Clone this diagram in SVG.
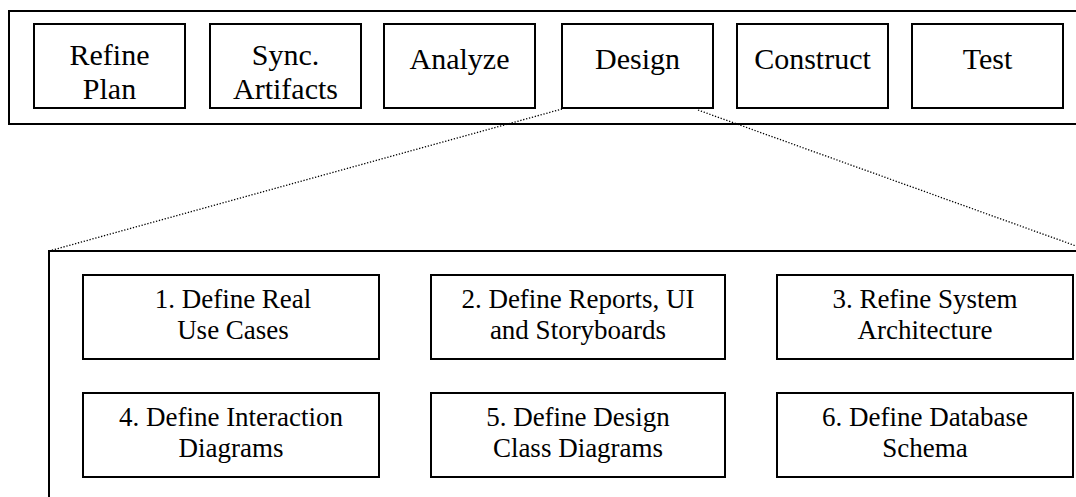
<svg xmlns="http://www.w3.org/2000/svg" width="1076" height="497" viewBox="0 0 1076 497">
  <rect width="1076" height="497" fill="#fff"/>

  <g id="frames" fill="none" stroke="#000" stroke-width="2">
    <rect id="phase-frame" x="9" y="11" width="1100" height="113"/>
    <rect id="design-frame" x="49" y="251" width="1100" height="300"/>
  </g>

  <g id="connectors" fill="none" stroke="#000" stroke-width="1.3" stroke-dasharray="1.3 1.7">
    <line x1="562" y1="109" x2="49" y2="251"/>
    <line x1="698" y1="110" x2="1090" y2="251"/>
  </g>

  <g id="nodes" stroke-width="2">
    <g id="refine-plan">
      <rect x="34" y="24" width="151" height="84" fill="#fff" stroke="#000"/>
      <text font-family="Liberation Serif" font-size="30" text-anchor="middle" x="109.5" y="65">Refine</text>
      <text font-family="Liberation Serif" font-size="30" text-anchor="middle" x="109.5" y="99">Plan</text>
    </g>
    <g id="sync-artifacts">
      <rect x="210" y="24" width="151" height="84" fill="#fff" stroke="#000"/>
      <text font-family="Liberation Serif" font-size="30" text-anchor="middle" x="285.5" y="65">Sync.</text>
      <text font-family="Liberation Serif" font-size="30" text-anchor="middle" x="285.5" y="99">Artifacts</text>
    </g>
    <g id="analyze">
      <rect x="384" y="24" width="151" height="84" fill="#fff" stroke="#000"/>
      <text font-family="Liberation Serif" font-size="30" text-anchor="middle" x="459.5" y="69">Analyze</text>
    </g>
    <g id="design">
      <rect x="562" y="24" width="151" height="84" fill="#fff" stroke="#000"/>
      <text font-family="Liberation Serif" font-size="30" text-anchor="middle" x="637.5" y="69">Design</text>
    </g>
    <g id="construct">
      <rect x="737" y="24" width="151" height="84" fill="#fff" stroke="#000"/>
      <text font-family="Liberation Serif" font-size="30" text-anchor="middle" x="812.5" y="69">Construct</text>
    </g>
    <g id="test">
      <rect x="912" y="24" width="151" height="84" fill="#fff" stroke="#000"/>
      <text font-family="Liberation Serif" font-size="30" text-anchor="middle" x="987.5" y="69">Test</text>
    </g>

    <g id="step1">
      <rect x="83" y="275" width="296" height="84" fill="#fff" stroke="#000"/>
      <text font-family="Liberation Serif" font-size="27" text-anchor="middle" x="233" y="308">1. Define Real</text>
      <text font-family="Liberation Serif" font-size="27" text-anchor="middle" x="233" y="338.5">Use Cases</text>
    </g>
    <g id="step2">
      <rect x="431" y="275" width="294" height="84" fill="#fff" stroke="#000"/>
      <text font-family="Liberation Serif" font-size="27" text-anchor="middle" x="578" y="308">2. Define Reports, UI</text>
      <text font-family="Liberation Serif" font-size="27" text-anchor="middle" x="578" y="338.5">and Storyboards</text>
    </g>
    <g id="step3">
      <rect x="777" y="275" width="296" height="84" fill="#fff" stroke="#000"/>
      <text font-family="Liberation Serif" font-size="27" text-anchor="middle" x="925" y="308">3. Refine System</text>
      <text font-family="Liberation Serif" font-size="27" text-anchor="middle" x="925" y="338.5">Architecture</text>
    </g>
    <g id="step4">
      <rect x="83" y="393" width="296" height="84" fill="#fff" stroke="#000"/>
      <text font-family="Liberation Serif" font-size="27" text-anchor="middle" x="231" y="426">4. Define Interaction</text>
      <text font-family="Liberation Serif" font-size="27" text-anchor="middle" x="231" y="456.5">Diagrams</text>
    </g>
    <g id="step5">
      <rect x="431" y="393" width="294" height="84" fill="#fff" stroke="#000"/>
      <text font-family="Liberation Serif" font-size="27" text-anchor="middle" x="578" y="426">5. Define Design</text>
      <text font-family="Liberation Serif" font-size="27" text-anchor="middle" x="578" y="456.5">Class Diagrams</text>
    </g>
    <g id="step6">
      <rect x="777" y="393" width="296" height="84" fill="#fff" stroke="#000"/>
      <text font-family="Liberation Serif" font-size="27" text-anchor="middle" x="925" y="426">6. Define Database</text>
      <text font-family="Liberation Serif" font-size="27" text-anchor="middle" x="925" y="456.5">Schema</text>
    </g>
  </g>
</svg>
